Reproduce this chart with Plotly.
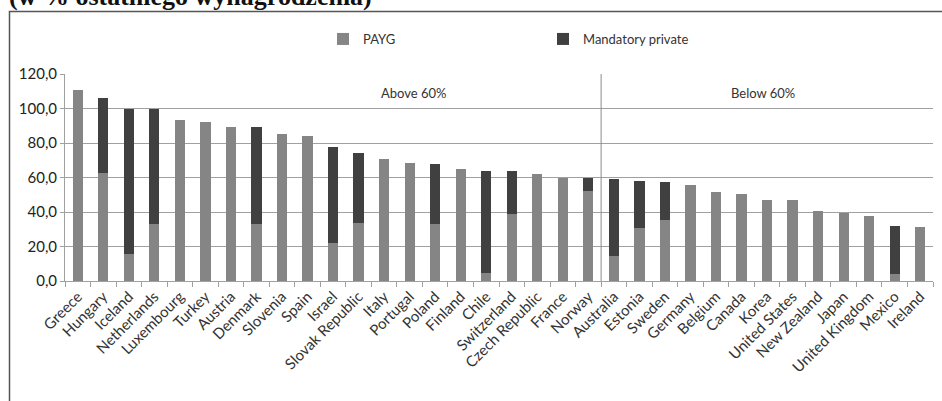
import plotly.graph_objects as go

countries = ["Greece", "Hungary", "Iceland", "Netherlands", "Luxembourg", "Turkey", "Austria",
             "Denmark", "Slovenia", "Spain", "Israel", "Slovak Republic", "Italy", "Portugal",
             "Poland", "Finland", "Chile", "Switzerland", "Czech Republic", "France", "Norway",
             "Australia", "Estonia", "Sweden", "Germany", "Belgium", "Canada", "Korea",
             "United States", "New Zealand", "Japan", "United Kingdom", "Mexico", "Ireland"]

payg = [110.7, 62.4, 15.5, 33.0, 93.3, 92.4, 89.1, 33.0, 85.2, 84.2, 21.8, 33.6, 70.9, 68.6,
        33.0, 64.7, 4.4, 38.6, 62.2, 59.5, 52.2, 14.5, 30.6, 35.2, 55.7, 51.8, 50.2, 47.0,
        47.0, 40.8, 39.4, 37.5, 4.1, 31.1]

totals = [110.7, 105.9, 99.9, 99.5, 93.3, 92.4, 89.1, 89.1, 85.2, 84.2, 77.9, 74.0, 70.9, 68.6,
          67.6, 64.7, 63.8, 63.8, 62.2, 59.5, 59.5, 59.3, 58.2, 57.2, 55.7, 51.8, 50.2, 47.0,
          47.0, 40.8, 39.4, 37.5, 31.9, 31.1]

mandatory = [round(t - p, 1) for t, p in zip(totals, payg)]

group_labels = ["Above 60%", "Below 60%"]
group_label_pos = [13.15, 26.85]
divider_pos = 20.5

title_text = "(w % ostatniego wynagrodzenia)"

FONT = "Lato"

fig = go.Figure()
fig.add_trace(go.Bar(x=countries, y=payg, name="PAYG", marker=dict(color="#858585", line_width=0)))
fig.add_trace(go.Bar(x=countries, y=mandatory, name="Mandatory private",
                     marker=dict(color="#404040", line_width=0)))

W, H = 942, 401
L, R, T, B = 65, 9, 74, 120
pw, ph = W - L - R, H - T - B


def px_x(px):
    return (px - L) / pw


def px_y(py):
    return (H - B - py) / ph


fig.update_layout(
    width=W, height=H,
    margin=dict(l=L, r=R, t=T, b=B, pad=0),
    barmode="stack",
    bargap=0.6,
    paper_bgcolor="white",
    plot_bgcolor="white",
    separators=",.",
    font=dict(family=FONT, size=13, color="#333333"),
    legend=dict(orientation="h", traceorder="normal", x=px_x(323), xanchor="left", y=px_y(39),
                yanchor="middle", entrywidth=175, entrywidthmode="pixels",
                font=dict(size=13, color="#333333"), bgcolor="rgba(0,0,0,0)", itemclick=False),
    showlegend=True,
)

fig.update_yaxes(range=[0, 120], dtick=20, tickformat=".1f", showgrid=True, gridcolor="#a0a0a0",
                 gridwidth=1, showline=True, linecolor="#a0a0a0", ticks="outside", ticklen=4,
                 tickcolor="#a0a0a0", tickfont=dict(size=15, color="#222222"), zeroline=False,
                 fixedrange=True)
fig.update_xaxes(tickangle=-45, showline=True, linecolor="#a0a0a0", ticks="outside", ticklen=5,
                 tickcolor="#a0a0a0", tickson="boundaries", tickfont=dict(size=15, color="#333333"),
                 showgrid=False, fixedrange=True)

fig.add_shape(type="line", xref="x", yref="y", x0=divider_pos, x1=divider_pos, y0=0, y1=120,
              line=dict(color="#8c8c8c", width=1))

for lab, pos in zip(group_labels, group_label_pos):
    fig.add_annotation(x=pos, y=px_y(93), xref="x", yref="paper", text=lab, showarrow=False,
                       font=dict(size=13, color="#333333"), xanchor="center", yanchor="middle")

# outer frame (cut at right and bottom edges)
x0 = px_x(9.5)
y0 = px_y(11.5)
fig.add_shape(type="path", xref="paper", yref="paper",
              path=f"M {px_x(9.5)},{px_y(410)} L {x0},{y0} L {px_x(950)},{y0}",
              line=dict(color="#555555", width=1.5))

fig.add_annotation(x=px_x(8), y=px_y(12), xref="paper", yref="paper", text=f"<b>{title_text}</b>",
                   showarrow=False, xanchor="left", yanchor="bottom", borderpad=0,
                   font=dict(family="Liberation Serif", size=26, color="#111111"))

fig.write_html("out.html")
